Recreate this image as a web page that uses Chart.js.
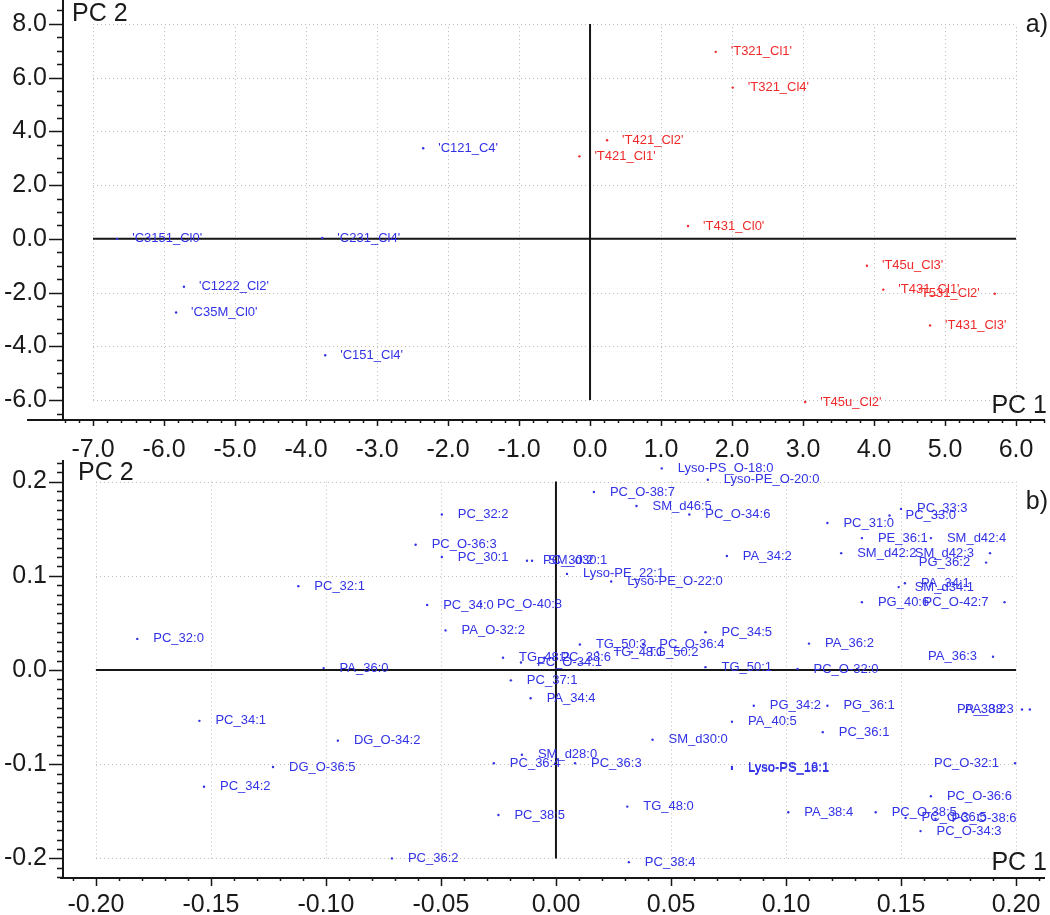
<!DOCTYPE html>
<html>
<head>
<meta charset="utf-8">
<script src="https://cdn.jsdelivr.net/npm/chart.js@4.4.1/dist/chart.umd.min.js"></script>
<style>
  html, body { margin: 0; padding: 0; background: #fff; }
  #wrap { position: relative; width: 1050px; height: 915px; overflow: hidden; }
  .panel { position: absolute; left: 0; width: 1050px; height: 460px; }
  #panelA { top: 0; }
  #panelB { top: 455px; }
</style>
</head>
<body>
<div id="wrap">
  <div class="panel" id="panelA"><canvas id="scoresChart" width="1050" height="460"></canvas></div>
  <div class="panel" id="panelB"><canvas id="loadingsChart" width="1050" height="460"></canvas></div>
</div>
<script>
// ---- a) scores ----
const controlNames = ["'C3151_Cl0'", "'C231_Cl4'", "'C121_C4'", "'C1222_Cl2'", "'C35M_Cl0'", "'C151_Cl4'"];
const controlX = [-6.66, -3.77, -2.35, -5.72, -5.83, -3.73];
const controlY = [0.0, 0.03, 3.37, -1.78, -2.74, -4.33];

const treatedNames = ["'T321_Cl1'", "'T321_Cl4'", "'T421_Cl2'", "'T421_Cl1'", "'T431_Cl0'", "'T45u_Cl3'",
    "'T431_Cl1'", "'T531_Cl2'", "'T431_Cl3'", "'T45u_Cl2'"];
const treatedX = [1.77, 2.01, 0.24, -0.15, 1.38, 3.90, 4.13, 5.70, 4.79, 3.03];
const treatedY = [6.96, 5.63, 3.67, 3.07, 0.48, -1.00, -1.89, -2.04, -3.22, -6.07];

const scoreXTicks = [-7, -6, -5, -4, -3, -2, -1, 0, 1, 2, 3, 4, 5, 6];
const scoreYTicks = [-6, -4, -2, 0, 2, 4, 6, 8];

// ---- b) loadings ----
const loadingNames = [
    'Lyso-PS_O-18:0', 'Lyso-PE_O-20:0', 'PC_O-38:7', 'SM_d46:5', 'PC_O-34:6', 'PC_32:2', 'PC_31:0',
    'PC_33:3', 'PC_33:0', 'PC_O-36:3', 'PE_36:1', 'SM_d42:4', 'SM_d42:2', 'SM_d42:3', 'PA_34:2',
    'PG_36:2', 'PC_30:1', 'PC_30:2', 'SM_d30:1', 'Lyso-PE_22:1', 'Lyso-PE_O-22:0', 'PC_32:1',
    'PA_34:1', 'SM_d34:1', 'PC_34:0', 'PC_O-40:8', 'PG_40:6', 'PC_O-42:7', 'PA_O-32:2', 'PC_32:0',
    'PC_34:5', 'TG_50:3', 'PC_O-36:4', 'PA_36:2', 'TG_48:2', 'PC_38:6', 'PC_O-34:1', 'TG_48:1',
    'TG_50:2', 'PA_36:3', 'TG_50:1', 'PC_O-32:0', 'PA_36:0', 'PC_37:1', 'PA_34:4', 'PG_34:2',
    'PG_36:1', 'PA_38:2', 'PA_38:3', 'PC_34:1', 'PA_40:5', 'PC_36:1', 'SM_d30:0', 'DG_O-34:2',
    'SM_d28:0', 'PC_36:4', 'PC_36:3', 'DG_O-36:5', 'Lyso-PS_16:1', 'Lyso-PS_18:1', 'PC_O-32:1',
    'PC_34:2', 'PC_O-36:6', 'TG_48:0', 'PC_38:5', 'PA_38:4', 'PC_O-38:5', 'PC_O-36:5', 'PC_O-38:6',
    'PC_O-34:3', 'PC_36:2', 'PC_38:4'
];
const loadingX = [
    0.046, 0.066, 0.0165, 0.035, 0.058, -0.0496, 0.118,
    0.150, 0.145, -0.061, 0.133, 0.163, 0.124, 0.1887, 0.0743,
    0.187, -0.0496, -0.0126, -0.0104, 0.0048, 0.024, -0.112,
    0.1517, 0.149, -0.056, -0.0326, 0.133, 0.195, -0.048, -0.182,
    0.065, 0.0104, 0.038, 0.110, -0.023, -0.005, -0.0152, 0.018,
    0.033, 0.190, 0.065, 0.105, -0.101, -0.0196, -0.011, 0.086,
    0.118, 0.2026, 0.206, -0.155, 0.0765, 0.116, 0.042, -0.0948,
    -0.0148, -0.027, 0.0083, -0.123, 0.0765, 0.0765, 0.1996,
    -0.153, 0.163, 0.031, -0.025, 0.101, 0.139, 0.152, 0.165,
    0.1585, -0.0713, 0.0317
];
const loadingY = [
    0.214, 0.202, 0.189, 0.174, 0.165, 0.165, 0.156,
    0.171, 0.164, 0.133, 0.140, 0.140, 0.124, 0.124, 0.121,
    0.114, 0.120, 0.116, 0.116, 0.102, 0.094, 0.089,
    0.092, 0.088, 0.069, 0.070, 0.072, 0.072, 0.042, 0.033,
    0.040, 0.027, 0.027, 0.028, 0.013, 0.013, 0.008, 0.019,
    0.019, 0.014, 0.003, 0.001, 0.002, -0.011, -0.030, -0.038,
    -0.038, -0.042, -0.042, -0.054, -0.055, -0.066, -0.074, -0.075,
    -0.090, -0.099, -0.099, -0.103, -0.103, -0.105, -0.099,
    -0.124, -0.134, -0.145, -0.154, -0.151, -0.151, -0.157, -0.158,
    -0.171, -0.200, -0.204
];

const loadingXTicks = [-0.20, -0.15, -0.10, -0.05, 0.00, 0.05, 0.10, 0.15, 0.20];
const loadingYTicks = [-0.2, -0.1, 0.0, 0.1, 0.2];

const BLUE = '#3232e6';
const RED = '#f02a2a';
const FONT = "'Liberation Sans', Arial, sans-serif";
const tickFont = { family: FONT, size: 25 };

function toPoints(xs, ys) {
    return xs.map((x, i) => ({ x: x, y: ys[i] }));
}

// grid box, zero cross, axis lines and tick marks
const axesPlugin = {
    id: 'pcaAxes',
    beforeDatasetsDraw(chart, args, o) {
        const ctx = chart.ctx;
        const xs = chart.scales.x, ys = chart.scales.y;
        const area = chart.chartArea;
        const px = v => xs.getPixelForValue(v);
        const py = v => ys.getPixelForValue(v);
        const gx0 = px(o.gridX[0]), gx1 = px(o.gridX[o.gridX.length - 1]);
        const gy0 = py(o.gridY[0]), gy1 = py(o.gridY[o.gridY.length - 1]);

        ctx.save();
        ctx.strokeStyle = '#b8b8b8';
        ctx.lineWidth = 1;
        ctx.setLineDash([1, 3]);
        ctx.beginPath();
        o.gridX.forEach(v => {
            const x = Math.round(px(v)) + 0.5;
            ctx.moveTo(x, gy0); ctx.lineTo(x, gy1);
        });
        o.gridY.forEach(v => {
            const y = Math.round(py(v)) + 0.5;
            ctx.moveTo(gx0, y); ctx.lineTo(gx1, y);
        });
        ctx.stroke();
        ctx.setLineDash([]);

        ctx.strokeStyle = '#161616';
        ctx.lineWidth = 2;
        ctx.beginPath();
        ctx.moveTo(gx0, py(0)); ctx.lineTo(gx1, py(0));
        ctx.moveTo(px(0), gy0); ctx.lineTo(px(0), gy1);
        ctx.moveTo(area.left, o.yAxisFrom); ctx.lineTo(area.left, area.bottom);
        ctx.moveTo(o.xAxisFrom, area.bottom); ctx.lineTo(area.right, area.bottom);
        ctx.stroke();

        // tick marks
        ctx.lineWidth = 1.5;
        ctx.beginPath();
        const yMajor = o.yMajorStep, yMinor = o.yMinorStep;
        for (let k = Math.ceil(ys.min / yMinor); k <= Math.floor(ys.max / yMinor); k++) {
            const v = k * yMinor;
            const isMajor = Math.abs(v / yMajor - Math.round(v / yMajor)) < 1e-6;
            const y = Math.round(py(v)) + 0.5;
            ctx.moveTo(area.left - (isMajor ? 14 : 6), y); ctx.lineTo(area.left, y);
        }
        const xMajor = o.xMajorStep, xMinor = o.xMinorStep;
        for (let k = Math.ceil(xs.min / xMinor); k <= Math.floor(xs.max / xMinor); k++) {
            const v = k * xMinor;
            const isMajor = Math.abs(v / xMajor - Math.round(v / xMajor)) < 1e-6;
            const x = Math.round(px(v)) + 0.5;
            ctx.moveTo(x, area.bottom); ctx.lineTo(x, area.bottom + (isMajor ? o.xMajorLen : 3));
        }
        ctx.stroke();
        ctx.restore();
    }
};

// sample / variable names next to the points
const pointLabels = {
    id: 'pointLabels',
    afterDatasetsDraw(chart, args, o) {
        const ctx = chart.ctx;
        ctx.save();
        ctx.font = o.size + 'px ' + FONT;
        ctx.textBaseline = 'middle';
        chart.data.datasets.forEach((ds, i) => {
            const meta = chart.getDatasetMeta(i);
            ctx.fillStyle = ds.borderColor;
            meta.data.forEach((pt, j) => {
                const text = ds.names[j];
                const w = ctx.measureText(text).width;
                if (pt.x + o.offset + w > chart.chartArea.right) {
                    ctx.textAlign = 'right';
                    ctx.fillText(text, pt.x - o.offset, pt.y);
                } else {
                    ctx.textAlign = 'left';
                    ctx.fillText(text, pt.x + o.offset, pt.y);
                }
            });
        });
        ctx.restore();
    }
};

// axis names and panel letter
const panelTitles = {
    id: 'panelTitles',
    afterDraw(chart, args, o) {
        const ctx = chart.ctx;
        ctx.save();
        ctx.fillStyle = '#1a1a1a';
        ctx.font = '25px ' + FONT;
        ctx.textBaseline = 'alphabetic';
        o.items.forEach(t => {
            ctx.textAlign = t.align;
            ctx.fillText(t.text, t.x, t.y);
        });
        ctx.restore();
    }
};

function makeScales(xMin, xMax, yMin, yMax, xTicks, yTicks, xDec, yDec, xHeight, xPad) {
    return {
        x: {
            type: 'linear', min: xMin, max: xMax,
            grid: { display: false, drawTicks: false },
            border: { display: false },
            afterBuildTicks: s => { s.ticks = xTicks.map(v => ({ value: v })); },
            afterFit: s => { s.height = xHeight; s.paddingLeft = 0; s.paddingRight = 0; },
            ticks: { padding: xPad, color: '#1a1a1a', font: tickFont, autoSkip: false, maxRotation: 0,
                callback: v => v.toFixed(xDec) }
        },
        y: {
            type: 'linear', min: yMin, max: yMax,
            grid: { display: false, drawTicks: false },
            border: { display: false },
            afterBuildTicks: s => { s.ticks = yTicks.map(v => ({ value: v })); },
            afterFit: s => { s.width = 63; s.paddingTop = 0; s.paddingBottom = 0; },
            ticks: { padding: 16, color: '#1a1a1a', font: tickFont, autoSkip: false,
                callback: v => v.toFixed(yDec) }
        }
    };
}

new Chart(document.getElementById('scoresChart'), {
    type: 'scatter',
    data: {
        datasets: [
            { names: controlNames, data: toPoints(controlX, controlY), backgroundColor: BLUE, borderColor: BLUE, pointRadius: 1.2, borderWidth: 0 },
            { names: treatedNames, data: toPoints(treatedX, treatedY), backgroundColor: RED, borderColor: RED, pointRadius: 1.2, borderWidth: 0 }
        ]
    },
    options: {
        responsive: false,
        animation: false,
        layout: { padding: { left: 0, right: 5, top: 2, bottom: 0 } },
        scales: makeScales(-7.423, 6.408, -6.74, 8.74, scoreXTicks, scoreYTicks, 1, 1, 40, 15),
        plugins: {
            legend: { display: false },
            tooltip: { enabled: false },
            pcaAxes: { gridX: scoreXTicks, gridY: scoreYTicks, yMajorStep: 2, yMinorStep: 0.5,
                xMajorStep: 1, xMinorStep: 0.2, xMajorLen: 6, xAxisFrom: 27, yAxisFrom: 0 },
            pointLabels: { size: 13, offset: 15 },
            panelTitles: { items: [
                { text: 'PC 2', x: 72, y: 21, align: 'left' },
                { text: 'PC 1', x: 1047, y: 413, align: 'right' },
                { text: 'a)', x: 1048, y: 32, align: 'right' }
            ] }
        }
    },
    plugins: [axesPlugin, pointLabels, panelTitles]
});

new Chart(document.getElementById('loadingsChart'), {
    type: 'scatter',
    data: {
        datasets: [
            { names: loadingNames, data: toPoints(loadingX, loadingY), backgroundColor: BLUE, borderColor: BLUE, pointRadius: 1.2, borderWidth: 0 }
        ]
    },
    options: {
        responsive: false,
        animation: false,
        layout: { padding: { left: 0, right: 5, top: 5, bottom: 0 } },
        scales: makeScales(-0.2143, 0.2126, -0.2208, 0.2229, loadingXTicks, loadingYTicks, 2, 1, 37, 12),
        plugins: {
            legend: { display: false },
            tooltip: { enabled: false },
            pcaAxes: { gridX: loadingXTicks, gridY: loadingYTicks, yMajorStep: 0.1, yMinorStep: 0.01,
                xMajorStep: 0.05, xMinorStep: 0.01, xMajorLen: 8, xAxisFrom: 60, yAxisFrom: 5 },
            pointLabels: { size: 13, offset: 16 },
            panelTitles: { items: [
                { text: 'PC 2', x: 78, y: 25, align: 'left' },
                { text: 'PC 1', x: 1047, y: 415, align: 'right' },
                { text: 'b)', x: 1048, y: 54, align: 'right' }
            ] }
        }
    },
    plugins: [axesPlugin, pointLabels, panelTitles]
});
</script>
</body>
</html>
